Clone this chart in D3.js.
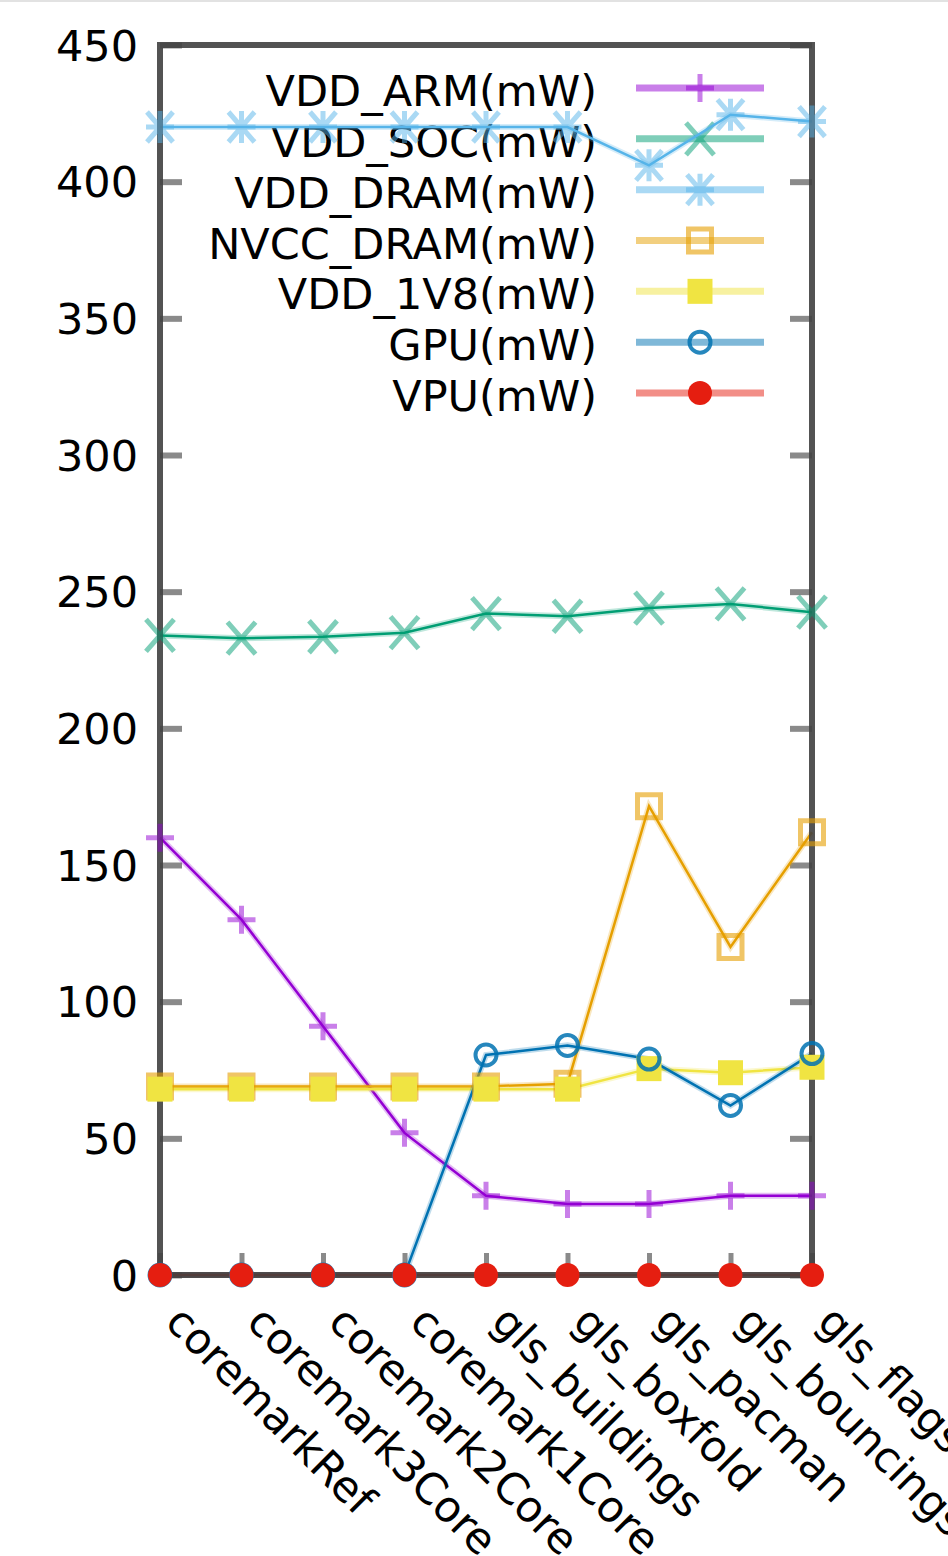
<!DOCTYPE html>
<html>
<head>
<meta charset="utf-8">
<script src="https://d3js.org/d3.v7.min.js"></script>
<style>
  body { margin: 0; background: #fff; }
  text { font-family: "DejaVu Sans", sans-serif; font-size: 43px; fill: #000; }
</style>
</head>
<body>
<svg width="948" height="1556"></svg>
<script>

var categories = ["coremarkRef", "coremark3Core", "coremark2Core", "coremark1Core",
  "gls_buildings", "gls_boxfold", "gls_pacman", "gls_bouncings", "gls_flags"];

var yTicks = [0, 50, 100, 150, 200, 250, 300, 350, 400, 450];

var vddArm  = [160, 130, 91, 52, 29, 26, 26, 29, 29];
var vddSoc  = [234, 233, 233.5, 235, 242, 241, 244, 245.5, 242.5];
var vddDram = [420, 420, 420, 420, 420, 420, 406, 424.5, 422];
var nvccDram = [69, 69, 69, 69, 69, 70, 171.5, 120, 162];
var vdd1v8  = [68, 68, 68, 68, 68, 68, 75.5, 74, 76];
var gpu     = [0, 0, 0, 0, 80.5, 84, 79, 62, 81];
var vpu     = [0, 0, 0, 0, 0, 0, 0, 0, 0];

var seriesNames = ["VDD_ARM(mW)", "VDD_SOC(mW)", "VDD_DRAM(mW)", "NVCC_DRAM(mW)",
  "VDD_1V8(mW)", "GPU(mW)", "VPU(mW)"];
var seriesValues = [vddArm, vddSoc, vddDram, nvccDram, vdd1v8, gpu, vpu];
var seriesColors = ["#9400d3", "#009e73", "#56b4e9", "#e69f00", "#f0e442", "#0072b2", "#e51e10"];
var seriesMarks = ["plus", "cross", "star", "square", "squareFill", "circle", "circleFill"];

var series = seriesNames.map(function(name, i) {
  return {name: name, color: seriesColors[i], mark: seriesMarks[i],
    values: seriesValues[i].map(function(v, j) { return {cat: categories[j], value: v}; })};
});

var svg = d3.select("svg");

var x = d3.scalePoint().domain(categories).range([160, 812]);
var y = d3.scaleLinear().domain([0, 450]).range([1275, 45]);

// thin grey strip at the top of the screenshot
svg.append("rect").attr("x", 0).attr("y", 0).attr("width", 948).attr("height", 2).attr("fill", "#e2e2e2");

// ticks
function styleTicks(g, w) {
  g.select(".domain").remove();
  g.selectAll(".tick line").attr("stroke", "#8a8a8a").attr("stroke-width", w);
}

svg.append("g")
    .attr("transform", "translate(160,0)")
    .call(d3.axisLeft(y).tickValues(yTicks).tickSize(-22).tickPadding(22))
    .call(styleTicks, 6)
    .selectAll("text")
    .attr("dy", "0.35em")
    .style("font-size", "43px")
    .style("font-family", "DejaVu Sans");

svg.append("g")
    .attr("transform", "translate(812,0)")
    .call(d3.axisRight(y).tickValues(yTicks).tickSize(-22).tickFormat(""))
    .call(styleTicks, 6);

svg.append("g")
    .attr("transform", "translate(0,1275)")
    .call(d3.axisBottom(x).tickSize(-22).tickPadding(0))
    .call(styleTicks, 5)
    .selectAll("text")
    .attr("x", 0).attr("y", 0).attr("dy", null)
    .attr("transform", "translate(3,49) rotate(45)")
    .style("text-anchor", "start")
    .style("font-size", "43px")
    .style("font-family", "DejaVu Sans");

// marker shapes
function markPath(type) {
  if (type === "plus") return "M-14,0H14M0,-14V14";
  if (type === "cross") return "M-14,-16L14,16M-14,16L14,-16";
  if (type === "star") return "M-14,0H14M0,-16V16M-13,-15L13,15M-13,15L13,-15";
  if (type === "square") return d3.symbol().type(d3.symbolSquare).size(23 * 23)();
  if (type === "squareFill") return d3.symbol().type(d3.symbolSquare).size(25 * 25)();
  if (type === "circle") return d3.symbol().type(d3.symbolCircle).size(Math.PI * 10.5 * 10.5)();
  return d3.symbol().type(d3.symbolCircle).size(Math.PI * 12 * 12)();
}

function drawMark(sel, s) {
  sel.attr("d", markPath(s.mark));
  if (s.mark === "plus" || s.mark === "cross" || s.mark === "star") {
    sel.attr("fill", "none").attr("stroke", s.color).attr("stroke-width", 5).attr("stroke-opacity", 0.5);
  } else if (s.mark === "square") {
    sel.attr("fill", "none").attr("stroke", s.color).attr("stroke-width", 5).attr("stroke-opacity", 0.6);
  } else if (s.mark === "circle") {
    sel.attr("fill", "none").attr("stroke", s.color).attr("stroke-width", 4).attr("stroke-opacity", 0.85);
  } else {
    sel.attr("fill", s.color).attr("stroke", "none");
  }
}

// legend
var legend = svg.append("g");
var rowY = d3.scalePoint().domain(seriesNames).range([88, 393]);
series.forEach(function(s) {
  var ly = rowY(s.name);
  legend.append("text")
      .attr("x", 597).attr("y", ly + 18)
      .style("text-anchor", "end")
      .text(s.name);
  legend.append("line")
      .attr("x1", 636).attr("x2", 764).attr("y1", ly).attr("y2", ly)
      .attr("stroke", s.color).attr("stroke-width", 7).attr("stroke-opacity", 0.5);
  legend.append("path")
      .attr("transform", "translate(700," + ly + ")")
      .call(drawMark, s);
});

// lines
var line = d3.line()
    .x(function(d) { return x(d.cat); })
    .y(function(d) { return y(d.value); });

series.forEach(function(s) {
  svg.append("path").datum(s.values)
      .attr("d", line).attr("fill", "none")
      .attr("stroke", s.color).attr("stroke-width", 6).attr("stroke-opacity", 0.25);
  svg.append("path").datum(s.values)
      .attr("d", line).attr("fill", "none")
      .attr("stroke", s.color).attr("stroke-width", 2.5);
});

// border
svg.append("rect")
    .attr("x", 160).attr("y", 45).attr("width", 652).attr("height", 1230)
    .attr("fill", "none").attr("stroke", "#404040").attr("stroke-width", 6)
    .attr("stroke-opacity", 0.9);

// markers
series.forEach(function(s) {
  svg.append("g").selectAll("path")
    .data(s.values)
    .enter().append("path")
      .attr("transform", function(d) { return "translate(" + x(d.cat) + "," + y(d.value) + ")"; })
      .call(drawMark, s);
});

</script>
</body>
</html>
